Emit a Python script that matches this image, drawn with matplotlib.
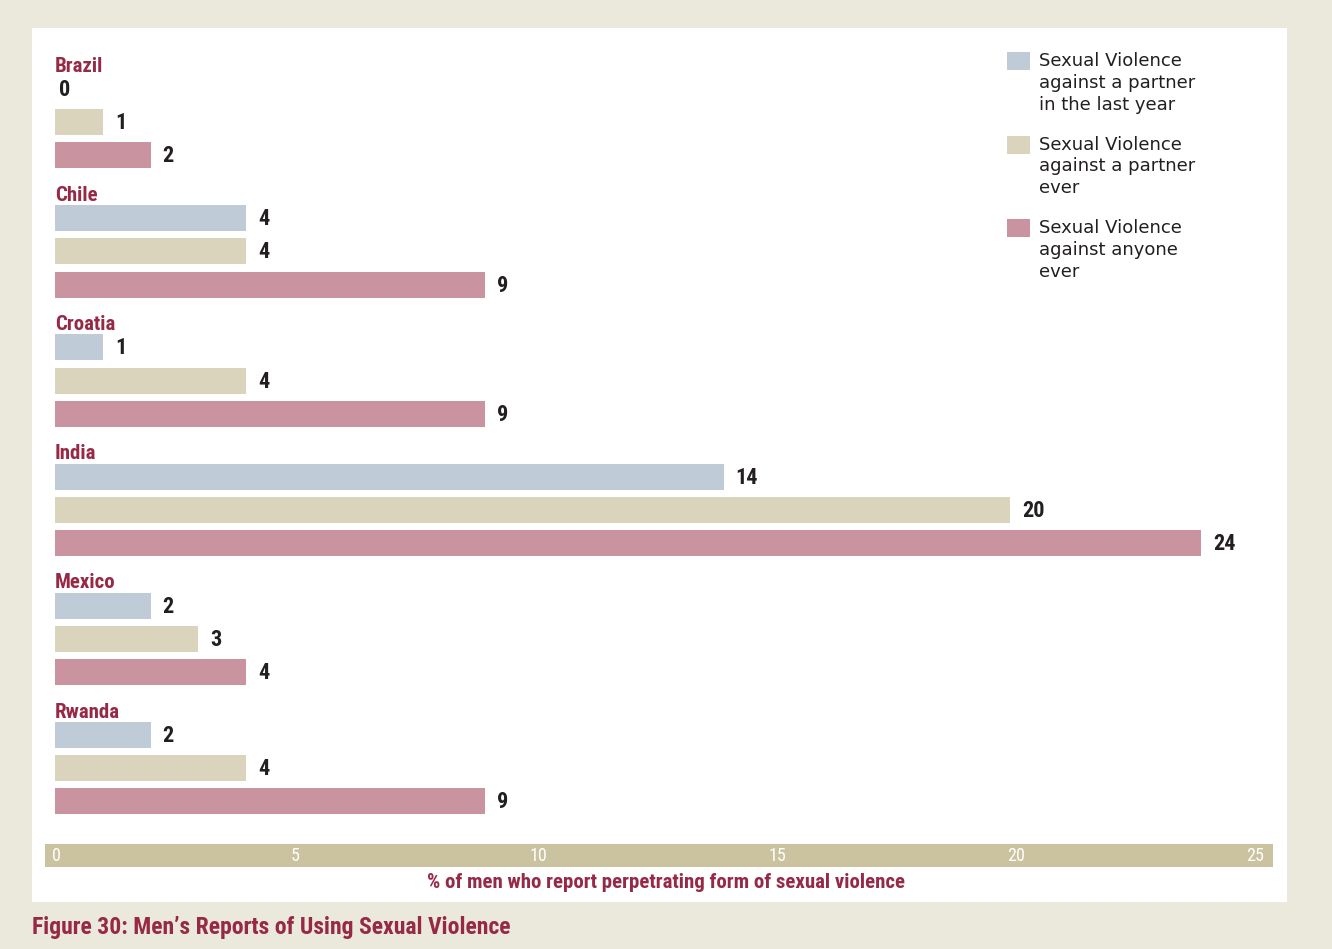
import matplotlib.pyplot as plt
from matplotlib.patches import Rectangle

# data
countries = ["Brazil", "Chile", "Croatia", "India", "Mexico", "Rwanda"]
partner_last_year = [0, 4, 1, 14, 2, 2]
partner_ever = [1, 4, 4, 20, 3, 4]
anyone_ever = [2, 9, 9, 24, 4, 9]
series_labels = ["Sexual Violence\nagainst a partner\nin the last year",
                 "Sexual Violence\nagainst a partner\never",
                 "Sexual Violence\nagainst anyone\never"]
ticks = [0, 5, 10, 15, 20, 25]
xlabel = "% of men who report perpetrating form of sexual violence"
title = "Figure 30: Men\u2019s Reports of Using Sexual Violence"

colors = ["#BFCCD7", "#D9D4BB", "#C993A0"]
crimson = "#962A46"
W, H = 1332, 949

narrow = ["Roboto Condensed", "DejaVu Sans"]

fig = plt.figure(figsize=(W / 100, H / 100), dpi=100, facecolor="#EBE8DC")
ax = fig.add_axes([0, 0, 1, 1])
ax.set_facecolor("none")
ax.axis("off")

# x scale: value 0 at px 55, value 25 at px 1249 (y axis in pixels)
ppu = (1249 - 55) / 25
ax.set_xlim(-55 / ppu, (W - 55) / ppu)
ax.set_ylim(H, 0)


def dx(px):
    return (px - 55) / ppu


# white panel
ax.add_patch(Rectangle((dx(32), 28), dx(1287) - dx(32), 874, facecolor="white",
                       edgecolor="none", zorder=0))
# axis band
ax.add_patch(Rectangle((dx(45), 844), dx(1273) - dx(45), 23, facecolor="#CBC3A0",
                       edgecolor="none", zorder=1))
for t in ticks:
    ax.text(t - 3 / ppu, 861, str(t), color="white", fontsize=13, family=narrow,
            ha="left", va="baseline", zorder=2)

series = [partner_last_year, partner_ever, anyone_ever]
for i, c in enumerate(countries):
    base = 71.5 + i * 129.2
    ax.text(0, base, c, color=crimson, fontsize=15, fontweight="bold",
            family=narrow, ha="left", va="baseline")
    for j, vals in enumerate(series):
        y = base + 17.5 + j * 33.2
        v = vals[i]
        ax.barh(y, v, height=26, color=colors[j], zorder=2)
        off = 12 if v > 0 else 4
        ax.text(v + off / ppu, y + 7, str(v), color="#231F20", fontsize=16,
                fontweight="bold", family=narrow,
                ha="left", va="baseline")

# legend
for j, lab in enumerate(series_labels):
    ly = 61 + j * 83.5
    ax.add_patch(Rectangle((dx(1007), ly - 9), dx(1030) - dx(1007), 18,
                           facecolor=colors[j], edgecolor="none"))
    ax.text(dx(1039), ly - 9, lab, color="#231F20", fontsize=13,
            ha="left", va="top", linespacing=1.27)

ax.text(dx(666), 888, xlabel, color=crimson, fontsize=15, family=narrow,
        fontweight="bold", ha="center", va="baseline")
ax.text(dx(32), 934, title, color=crimson, fontsize=17, family=narrow,
        fontweight="bold", ha="left", va="baseline")

fig.savefig("out.png", dpi=100, facecolor=fig.get_facecolor())
